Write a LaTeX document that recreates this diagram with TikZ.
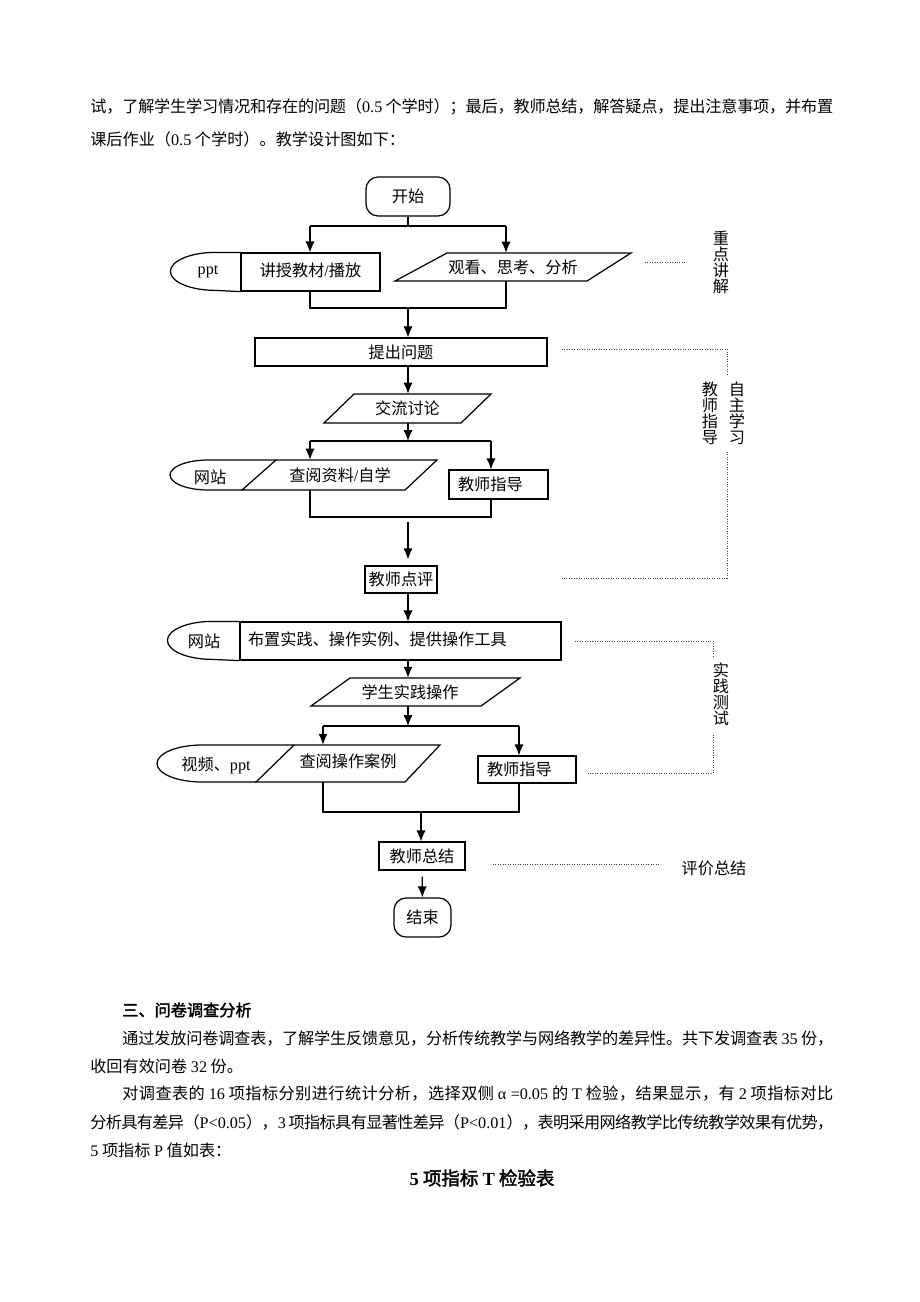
\documentclass[tikz,border=0pt]{standalone}
\usepackage{fontspec}
\setmainfont{Noto Sans CJK SC}[AutoFakeBold=2]
\newfontfamily\en{Liberation Serif}
\usetikzlibrary{arrows.meta}
\newlength\pxu
\setlength\pxu{0.0228261cm}
\newcount\cjkn
\newXeTeXintercharclass\cjkc
\XeTeXinterchartokenstate=1
\cjkn="3000 \loop \XeTeXcharclass\cjkn=\cjkc \advance\cjkn 1 \ifnum\cjkn<"3040 \repeat
\cjkn="4E00 \loop \XeTeXcharclass\cjkn=\cjkc \advance\cjkn 1 \ifnum\cjkn<"A000 \repeat
\cjkn="FF00 \loop \XeTeXcharclass\cjkn=\cjkc \advance\cjkn 1 \ifnum\cjkn<"FFF0 \repeat
\XeTeXinterchartoks\cjkc\cjkc={\hskip0pt plus 2pt minus 0.6pt\relax}

\begin{document}
\begin{tikzpicture}[x=\pxu,y=-\pxu,
        every node/.style={inner sep=0,font=\fontsize{10.5pt}{12.6pt}\selectfont},
        flow/.style={line width=0.8pt},
        arr/.style={flow,-{Latex[length=2.5mm,width=2.1mm]}},
        note/.style={densely dotted,line width=0.6pt,black!75},
        box/.style={draw,flow},
        textline/.style={anchor=west},
        side/.style={align=center,font=\fontsize{10.5pt}{10.4pt}\selectfont}]
        \useasboundingbox (0,0) rectangle (920,1302);
        \node[textline] (t1) at (90,107) {\makebox[743\pxu][s]{试，了解学生学习情况和存在的问题（{\en 0.5} 个学时）；最后，教师总结，解答疑点，提出注意事项，并布置}};
        \node[textline] (t2) at (90,139) {课后作业（{\en 0.5} 个学时）。教学设计图如下：};

        \node[box,rounded corners=12\pxu,minimum width=84\pxu,minimum height=39\pxu] (start) at (408,196.5) {开始};
        \coordinate (s1) at (408,226);
        \coordinate (s1l) at (310,226);
        \coordinate (s1r) at (506,226);
        \draw[flow] (start) -- (s1);
        \draw[flow] (s1l) -- (s1r);

        \node[box,minimum width=139\pxu,minimum height=38\pxu] (teach) at (310.5,272) {\raisebox{4\pxu}{讲授教材{\en /}播放}};
        \draw[flow] (teach.north west) -- ++(-25,0) arc[start angle=90,end angle=270,x radius=45\pxu,y radius=19\pxu] -- (teach.south west);
        \node (ppt) at (208,272) {\en ppt};
        \draw[flow] (395,281) -- (447,253) -- (631,253) -- (587,281) -- cycle;
        \node[minimum width=150\pxu,minimum height=28\pxu] (watch) at (513,267) {观看、思考、分析};
        \draw[arr] (s1l) -- (s1l |- teach.north);
        \draw[arr] (s1r) -- (s1r |- watch.north);

        \coordinate (j1) at (408,308);
        \coordinate (j1l) at (310,308);
        \coordinate (j1r) at (506,308);
        \draw[flow] (teach.south -| j1l) -- (j1l) -- (j1r) -- (watch.south -| j1r);
        \draw[note] (645,262) -- (685,262);
        \node[side] (lab1) at (721,262) {重\\点\\讲\\解};

        \node[box,minimum width=292\pxu,minimum height=28\pxu] (ask) at (401,352) {提出问题};
        \draw[arr] (j1) -- (ask.north -| j1);
        \draw[flow] (324,423) -- (354,394) -- (491,394) -- (461,423) -- cycle;
        \node[minimum width=105\pxu,minimum height=29\pxu] (discuss) at (407.5,408.5) {交流讨论};
        \draw[arr] (ask.south -| j1) -- (discuss.north -| j1);

        \coordinate (s2) at (408,441);
        \coordinate (s2l) at (310,441);
        \coordinate (s2r) at (491,441);
        \draw[arr] (discuss.south -| j1) -- (s2);
        \draw[flow] (s2l) -- (s2r);
        \draw[flow] (242,490) -- (276,460) -- (437,460) -- (405,490) -- cycle;
        \draw[flow] (276,460) -- (208,460) arc[start angle=90,end angle=270,x radius=38\pxu,y radius=15\pxu] -- (242,490);
        \node[minimum width=130\pxu,minimum height=30\pxu] (read) at (340,475) {查阅资料{\en /}自学};
        \node (site1) at (210,477) {网站};
        \node[box,minimum width=99\pxu,minimum height=29\pxu] (guide1) at (498.5,484.5) {\makebox[81\pxu][l]{教师指导}};
        \draw[arr] (s2l) -- (s2l |- read.north);
        \draw[arr] (s2r) -- (s2r |- guide1.north);

        \coordinate (j2) at (408,517);
        \coordinate (j2l) at (310,517);
        \coordinate (j2r) at (491,517);
        \draw[flow] (read.south -| j2l) -- (j2l) -- (j2r) -- (guide1.south -| j2r);
        \node[box,minimum width=72\pxu,minimum height=27\pxu] (review) at (401,579.5) {教师点评};
        \draw[arr,shorten <=5\pxu,shorten >=6\pxu] (j2) -- (review.north -| j2);

        \draw[note] (562,349) -- (727,349) -- (727,376);
        \draw[note] (727,452) -- (727,578) -- (562,578);
        \node[side] (lab2) at (710,413.5) {教\\师\\指\\导};
        \node[side] (lab3) at (737,413.5) {自\\主\\学\\习};

        \node[box,minimum width=321\pxu,minimum height=38\pxu] (task) at (400.5,641) {\makebox[305\pxu][l]{\raisebox{4\pxu}{布置实践、操作实例、提供操作工具}}};
        \draw[flow] (task.north west) -- ++(-27,0) arc[start angle=90,end angle=270,x radius=45\pxu,y radius=19\pxu] -- (task.south west);
        \node (site2) at (204,641) {网站};
        \draw[arr] (review.south -| j2) -- (task.north -| j2);

        \draw[flow] (311,706) -- (350,678) -- (520,678) -- (481,706) -- cycle;
        \node[minimum width=130\pxu,minimum height=28\pxu] (practice) at (410,692) {学生实践操作};
        \draw[arr] (task.south -| j2) -- (practice.north -| j2);

        \coordinate (s3) at (408,726);
        \coordinate (s3l) at (323,726);
        \coordinate (s3r) at (519,726);
        \draw[arr] (practice.south -| s3) -- (s3);
        \draw[flow] (s3l) -- (s3r);
        \draw[flow] (256,782) -- (294,745) -- (440,745) -- (405,782) -- cycle;
        \draw[flow] (294,745) -- (202,745) arc[start angle=90,end angle=270,x radius=45\pxu,y radius=18.5\pxu] -- (256,782);
        \node[minimum width=120\pxu,minimum height=37\pxu] (case) at (348,763.5) {\raisebox{5\pxu}{查阅操作案例}};
        \node (video) at (216,765) {视频、{\en ppt}};
        \node[box,minimum width=98\pxu,minimum height=27\pxu] (guide2) at (527,769.5) {\makebox[80\pxu][l]{教师指导}};
        \draw[arr] (s3l) -- (s3l |- case.north);
        \draw[arr] (s3r) -- (s3r |- guide2.north);

        \draw[note] (575,641) -- (713,641) -- (713,656);
        \draw[note] (713,735) -- (713,773) -- (588,773);
        \node[side] (lab4) at (721,694) {实\\践\\测\\试};

        \coordinate (j3) at (421,812);
        \coordinate (j3l) at (323,812);
        \coordinate (j3r) at (519,812);
        \draw[flow] (case.south -| j3l) -- (j3l) -- (j3r) -- (guide2.south -| j3r);
        \node[box,minimum width=86\pxu,minimum height=28\pxu] (sum) at (422,856) {教师总结};
        \draw[arr] (j3) -- (sum.north -| j3);
        \draw[note] (493,864) -- (660,864);
        \node (lab5) at (714,868) {评价总结};
        \node[box,rounded corners=12\pxu,minimum width=57\pxu,minimum height=39\pxu] (stop) at (422.5,917.5) {结束};
        \draw[arr,shorten <=6\pxu] (sum) -- (stop);

        \node[textline,font=\fontsize{10.5pt}{12.6pt}\selectfont\bfseries] (h3) at (122,1010) {三、问卷调查分析};
        \node[textline] (p1) at (122,1038) {\makebox[711\pxu][s]{通过发放问卷调查表，了解学生反馈意见，分析传统教学与网络教学的差异性。共下发调查表 {\en 35} 份，}};
        \node[textline] (p2) at (90,1066) {收回有效问卷 {\en 32} 份。};
        \node[textline] (p3) at (122,1094) {\makebox[711\pxu][s]{对调查表的 {\en 16} 项指标分别进行统计分析，选择双侧 {\en α =0.05} 的 {\en T} 检验，结果显示，有 {\en 2} 项指标对比}};
        \node[textline] (p4) at (90,1122) {\makebox[743\pxu][s]{分析具有差异（{\en P<0.05}），{\en 3} 项指标具有显著性差异（{\en P<0.01}），表明采用网络教学比传统教学效果有优势，}};
        \node[textline] (p5) at (90,1150) {{\en 5} 项指标 {\en P} 值如表：};
        \node[font=\fontsize{12pt}{14pt}\selectfont\bfseries] (title) at (482,1178) {{\en 5} 项指标 {\en T} 检验表};
\end{tikzpicture}
\end{document}
